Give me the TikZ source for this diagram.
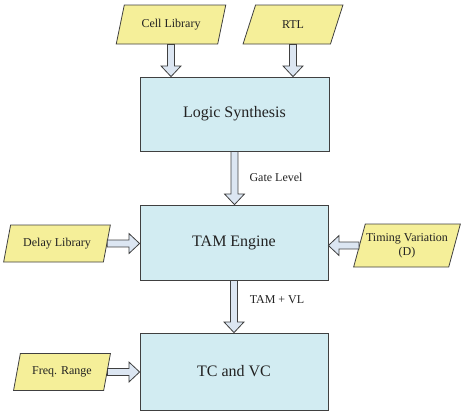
\documentclass[tikz,border=0pt]{standalone}
\usepackage{fontspec}
\setmainfont{Liberation Serif}
\usetikzlibrary{shapes.geometric,calc}
\definecolor{boxfill}{HTML}{D2ECF2}
\definecolor{parafill}{HTML}{F5EF99}
\definecolor{arrfill}{HTML}{DCE6F2}
\definecolor{edge}{HTML}{404040}
\definecolor{txt}{HTML}{222222}
\tikzset{
  procbox/.style={draw=edge, line width=0.6pt, fill=boxfill, rectangle, inner sep=0pt, font=\fontsize{12}{14}\selectfont, text=txt},
  databox/.style={draw=edge, line width=0.6pt, fill=parafill, trapezium, trapezium left angle=65, trapezium right angle=115, trapezium stretches=true, inner sep=0pt, font=\fontsize{9}{10.5}\selectfont, text=txt, align=center},
  harrow/.style={draw=edge, line width=0.6pt, fill=arrfill, line join=miter},
  lbl/.style={font=\fontsize{9}{10.5}\selectfont, text=txt, inner sep=0pt}
}
\newcommand{\hollowdown}[2]{\draw[harrow] let \p1=(#1), \p2=(#2) in
  (\x1-2.6pt,\y1) -- (\x1-2.6pt,\y2+8pt) -- (\x1-7.5pt,\y2+8pt) -- (\x1,\y2)
  -- (\x1+7.5pt,\y2+8pt) -- (\x1+2.6pt,\y2+8pt) -- (\x1+2.6pt,\y1) -- cycle;}
\newcommand{\hollowright}[2]{\draw[harrow] let \p1=(#1), \p2=(#2) in
  (\x1,\y1+2.6pt) -- (\x2-8pt,\y1+2.6pt) -- (\x2-8pt,\y1+7.5pt) -- (\x2,\y1)
  -- (\x2-8pt,\y1-7.5pt) -- (\x2-8pt,\y1-2.6pt) -- (\x1,\y1-2.6pt) -- cycle;}
\newcommand{\hollowleft}[2]{\draw[harrow] let \p1=(#1), \p2=(#2) in
  (\x1,\y1+2.6pt) -- (\x2+8pt,\y1+2.6pt) -- (\x2+8pt,\y1+7.5pt) -- (\x2,\y1)
  -- (\x2+8pt,\y1-7.5pt) -- (\x2+8pt,\y1-2.6pt) -- (\x1,\y1-2.6pt) -- cycle;}
\begin{document}
\begin{tikzpicture}[x=0.75pt,y=-0.75pt]
\useasboundingbox (0,0) rectangle (463,415);
% process boxes
\node[procbox, minimum width=189*0.75pt, minimum height=74*0.75pt] (ls) at (234.5,114) {Logic Synthesis};
\node[procbox, minimum width=188*0.75pt, minimum height=75*0.75pt] (tam) at (234,242.5) {TAM Engine};
\node[procbox, minimum width=188*0.75pt, minimum height=77*0.75pt] (tc) at (234,371.5) {TC and VC};
% data boxes
\node[databox, minimum width=110*0.75pt, minimum height=39*0.75pt] (cl) at (171,24.5) {Cell Library};
\node[databox, minimum width=100*0.75pt, minimum height=39*0.75pt] (rtl) at (293,24.5) {RTL};
\node[databox, minimum width=107*0.75pt, minimum height=37*0.75pt] (dl) at (57,243.5) {Delay Library};
\node[databox, minimum width=107*0.75pt, minimum height=43*0.75pt] (tv) at (407,245.5) {Timing Variation\\(D)};
\node[databox, minimum width=97*0.75pt, minimum height=37*0.75pt] (fr) at (62,372) {Freq. Range};
% arrows
\hollowdown{cl.south}{cl.south |- ls.north}
\hollowdown{rtl.south}{rtl.south |- ls.north}
\hollowdown{ls.south}{ls.south |- tam.north}
\hollowdown{tam.south}{tam.south |- tc.north}
\hollowright{dl.east}{dl.east -| tam.west}
\hollowright{fr.east}{fr.east -| tc.west}
\hollowleft{tv.west}{tv.west -| tam.east}
% labels
\node[lbl] (gl) at (276,177) {Gate Level};
\node[lbl] (tv2) at (277,300) {TAM + VL};
\end{tikzpicture}
\end{document}
